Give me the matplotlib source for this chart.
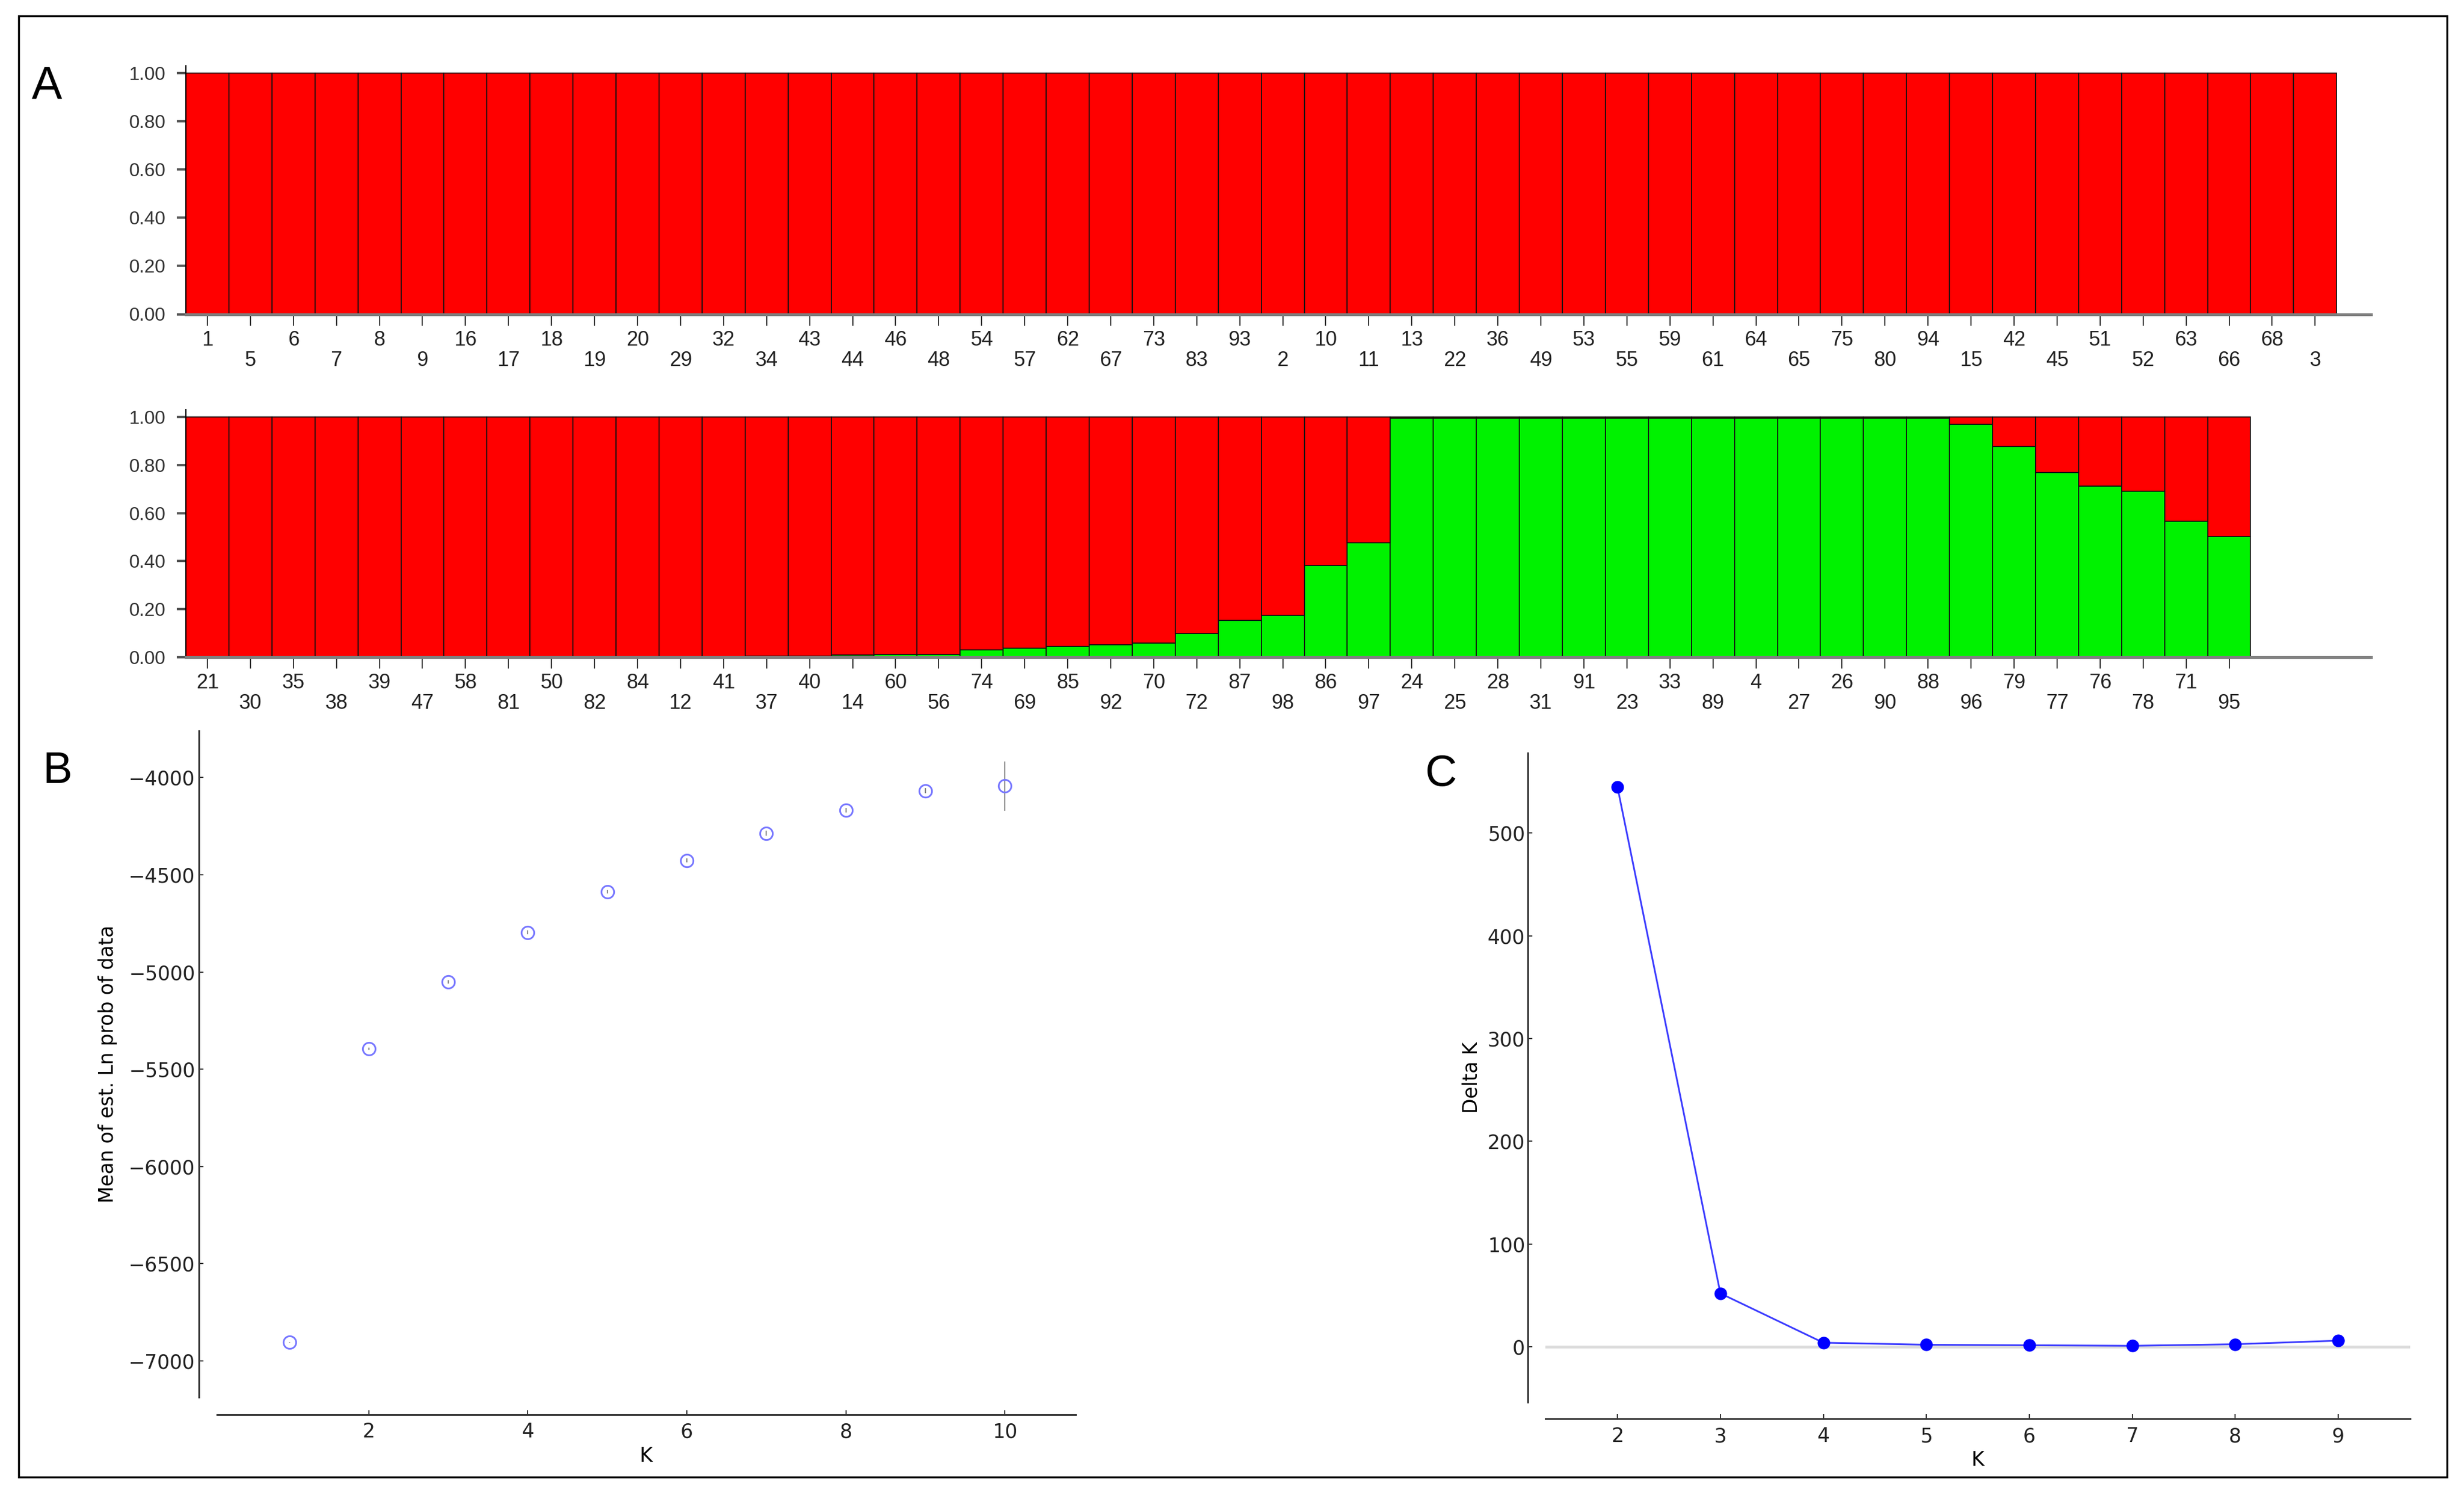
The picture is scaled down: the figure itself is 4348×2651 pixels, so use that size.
import numpy as np
import matplotlib.pyplot as plt
from matplotlib.patches import Rectangle
from matplotlib.ticker import FormatStrFormatter

# ---- panel A: STRUCTURE bar plot (K=2), two rows of individuals ----
row1_ids = ['1', '5', '6', '7', '8', '9', '16', '17', '18', '19',
            '20', '29', '32', '34', '43', '44', '46', '48', '54', '57',
            '62', '67', '73', '83', '93', '2', '10', '11', '13', '22',
            '36', '49', '53', '55', '59', '61', '64', '65', '75', '80',
            '94', '15', '42', '45', '51', '52', '63', '66', '68', '3']
# every individual of the first row is fully red (green share 0)
row1_green = [0.0] * len(row1_ids)

row2_ids = ['21', '30', '35', '38', '39', '47', '58', '81', '50', '82',
            '84', '12', '41', '37', '40', '14', '60', '56', '74', '69',
            '85', '92', '70', '72', '87', '98', '86', '97', '24', '25',
            '28', '31', '91', '23', '33', '89', '4', '27', '26', '90',
            '88', '96', '79', '77', '76', '78', '71', '95']
row2_green = [0.0, 0.0, 0.0, 0.0, 0.0, 0.0, 0.0, 0.0, 0.0, 0.0,
              0.0, 0.0, 0.0, 0.004, 0.005, 0.010, 0.011, 0.012, 0.031, 0.038,
              0.044, 0.052, 0.058, 0.100, 0.153, 0.174, 0.383, 0.476, 0.996, 0.996,
              0.996, 0.996, 0.996, 0.996, 0.996, 0.996, 0.996, 0.996, 0.996, 0.996,
              0.996, 0.970, 0.877, 0.768, 0.712, 0.690, 0.567, 0.502]

# ---- panel B: mean Ln P(D) per K ----
k_b = [1, 2, 3, 4, 5, 6, 7, 8, 9, 10]
lnp_mean = [-6905, -5395, -5051, -4796, -4588, -4427, -4286, -4167, -4068, -4044]
lnp_sd = [2, 6, 8, 10, 9, 10, 12, 12, 14, 128]

# ---- panel C: Delta K ----
k_c = [2, 3, 4, 5, 6, 7, 8, 9]
delta_k = [545, 52, 4, 2, 1.5, 1, 2.5, 6]

W, H = 4348, 2651
fig = plt.figure(figsize=(W / 100, H / 100), dpi=100)

RED = '#ff0000'
GREEN = '#00f200'


def structure_row(rect, ids, green):
    ax = fig.add_axes(rect)
    x = np.arange(len(ids)) + 0.5
    green = np.array(green)
    ax.bar(x, green, width=1, color=GREEN, edgecolor='#111111', linewidth=1.3)
    ax.bar(x, 1 - green, bottom=green, width=1, color=RED,
           edgecolor='#111111', linewidth=1.3)
    ax.set_xlim(0, 50.8)
    ax.set_ylim(0, 1.03)
    for s in ['top', 'right']:
        ax.spines[s].set_visible(False)
    ax.spines['bottom'].set_color('#7f7f7f')
    ax.spines['bottom'].set_linewidth(3.6)
    ax.spines['left'].set_color('black')
    ax.spines['left'].set_linewidth(1.5)
    ax.set_yticks(np.arange(0, 1.01, 0.2))
    ax.yaxis.set_major_formatter(FormatStrFormatter('%.2f'))
    ax.tick_params(axis='y', length=11.5, width=3, color='#555555', pad=14,
                   labelsize=24, labelcolor='#333333')
    ax.set_xticks(x)
    ax.set_xticklabels(ids, family=['Liberation Sans', 'DejaVu Sans'])
    ax.tick_params(axis='x', length=14.4, width=1.5, color='#333333', pad=6,
                   labelsize=26, labelcolor='#222222')
    for lab in ax.get_yticklabels():
        lab.set_family(['Liberation Sans', 'DejaVu Sans'])
    for i, t in enumerate(ax.xaxis.get_major_ticks()):
        if i % 2 == 1:
            t.set_pad(32)
    return ax


structure_row([328 / W, 1 - 554.5 / H, (4184 - 328) / W, 438.7 / H], row1_ids, row1_green)
structure_row([328 / W, 1 - 1160 / H, (4184 - 328) / W, 436.7 / H], row2_ids, row2_green)


def style_small(ax, off_left, off_bottom):
    for s in ['top', 'right']:
        ax.spines[s].set_visible(False)
    for s in ['left', 'bottom']:
        ax.spines[s].set_color('#333333')
        ax.spines[s].set_linewidth(2.2)
    ax.spines['left'].set_position(('outward', off_left))
    ax.spines['bottom'].set_position(('outward', off_bottom))
    ax.tick_params(axis='both', direction='in', length=6, width=1.5,
                   color='#333333', labelsize=25, labelcolor='#222222')
    ax.tick_params(axis='x', pad=10)
    ax.tick_params(axis='y', pad=5)


# panel B
axb = fig.add_axes([383 / W, 1 - 2466 / H, 1515 / W, 1176 / H])
axb.errorbar(k_b, lnp_mean, yerr=lnp_sd, fmt='o', mfc='none', mec='#7878ff',
             mew=2.2, ms=16, ecolor='#8a8a8a', elinewidth=1.6)
axb.set_xlim(0.09, 10.89)
axb.set_ylim(-7187, -3760)
axb.set_xticks([2, 4, 6, 8, 10])
axb.set_yticks(np.arange(-7000, -3999, 500))
style_small(axb, 23, 22)
axb.set_xlabel('K', fontsize=25, labelpad=6)
axb.set_ylabel('Mean of est. Ln prob of data', fontsize=25, labelpad=14)

# panel C
axc = fig.add_axes([2727 / W, 1 - 2475 / H, 1526 / W, 1146 / H])
axc.axhline(0, color='#dcdcdc', lw=3.6, zorder=0)
axc.plot(k_c, delta_k, '-o', color='#3c3cff', lw=2.2, mfc='#0000ff',
         mec='#0000ff', ms=15)
axc.set_xlim(1.3, 9.7)
axc.set_ylim(-54, 578)
axc.set_xticks(k_c)
axc.set_yticks([0, 100, 200, 300, 400, 500])
style_small(axc, 22, 21)
axc.tick_params(axis='y', pad=4)
axc.set_xlabel('K', fontsize=25, labelpad=6)
axc.set_ylabel('Delta K', fontsize=25, labelpad=8)

# panel letters
fig.text(83 / W, 1 - 153 / H, 'A', fontsize=58, ha='center', va='center',
         family=['Liberation Sans', 'DejaVu Sans'])
fig.text(102 / W, 1 - 1362 / H, 'B', fontsize=56, ha='center', va='center',
         family=['Liberation Sans', 'DejaVu Sans'])
fig.text(2543 / W, 1 - 1366 / H, 'C', fontsize=56, ha='center', va='center',
         family=['Liberation Sans', 'DejaVu Sans'])

# outer frame
fig.add_artist(Rectangle((33 / W, 1 - 2607 / H), (4318 - 33) / W, (2607 - 28) / H,
                         transform=fig.transFigure, fill=False, lw=2.5,
                         ec='black'))

fig.savefig('out.png', dpi=100)
